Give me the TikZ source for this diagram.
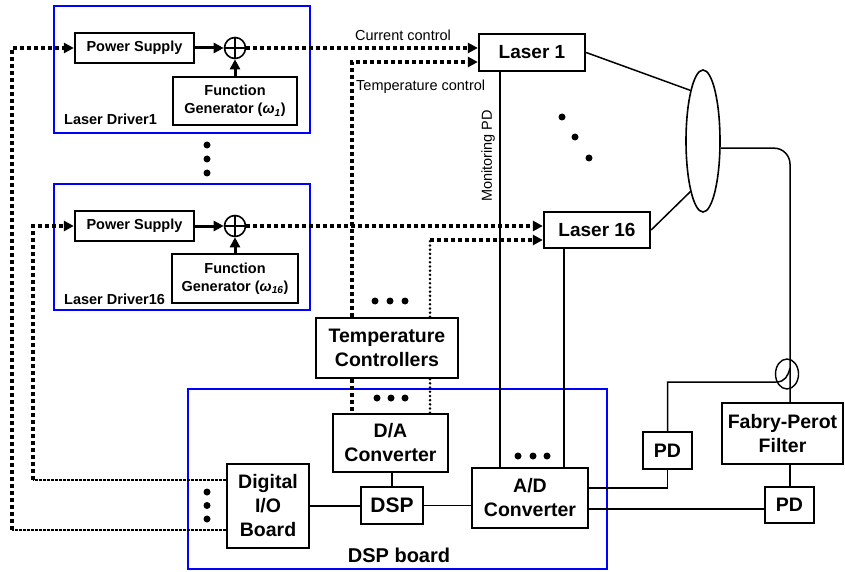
\documentclass[tikz,border=0pt]{standalone}
\usepackage{fontspec}
\setmainfont{Liberation Sans}
\usetikzlibrary{arrows.meta,shapes.geometric}

\begin{document}
\begin{tikzpicture}[x=1pt,y=-1pt,
  grp/.style={draw=blue, line width=1.6pt, inner sep=0pt},
  blk/.style={draw, line width=2.3pt, align=center, inner sep=0pt,
    font=\bfseries\fontsize{19.5}{24}\selectfont},
  sblk/.style={draw, line width=2.3pt, align=center, inner sep=0pt,
    font=\bfseries\fontsize{14.5}{18.5}\selectfont},
  lbl/.style={inner sep=0pt, font=\fontsize{14.5}{17}\selectfont},
  blbl/.style={inner sep=0pt, font=\bfseries\fontsize{14.5}{17}\selectfont},
  ctrl/.style={line width=3.6pt, dash pattern=on 4pt off 3pt},
  ctrlthin/.style={line width=2.3pt, dash pattern=on 2.5pt off 1.5pt},
  ctrldot/.style={line width=2.8pt, line cap=round, dash pattern=on 0pt off 4.2pt},
  tip/.style={-{Triangle[length=10pt,width=10pt]}},
  feed/.style={line width=3pt, -{Triangle[length=10pt,width=10pt]}},
  sig/.style={line width=1.5pt},
  dotmark/.style={circle, fill, inner sep=0pt, minimum size=7pt},
  adder/.style={circle, draw, line width=1.6pt, minimum size=21pt, inner sep=0pt,
    path picture={\draw[line width=1.6pt]
      (path picture bounding box.north) -- (path picture bounding box.south)
      (path picture bounding box.west) -- (path picture bounding box.east);}}
]
\useasboundingbox (0,0) rectangle (845,572);

% group frames
\node[grp, minimum width=256pt, minimum height=127pt] (ld1) at (182,69.5) {};
\node[grp, minimum width=256pt, minimum height=126pt] (ld16) at (182,247) {};
\node[grp, minimum width=419pt, minimum height=180pt] (dspb) at (397.5,479) {};

% laser driver 1
\node[sblk, minimum width=119pt, minimum height=30pt] (ps1) at (134.5,48) {Power Supply};
\node[adder] (sum1) at (235,48) {};
\node[sblk, minimum width=124pt, minimum height=48pt] (fg1) at (235,101)
  {Function\\Generator (\textit{ω}\textsubscript{\textit{1}})};
\node[blbl, anchor=base west] (ld1t) at (64,125) {Laser Driver1};

% laser driver 16
\node[sblk, minimum width=119pt, minimum height=30pt] (ps16) at (134.5,226) {Power Supply};
\node[adder] (sum16) at (235,226) {};
\node[sblk, minimum width=126pt, minimum height=49pt] (fg16) at (235,278.5)
  {Function\\Generator (\textit{ω}\textsubscript{\textit{16}})};
\node[blbl, anchor=base west] (ld16t) at (64,304) {Laser Driver16};

% lasers and combiner
\node[blk, font=\bfseries\fontsize{19}{23}\selectfont, minimum width=106pt, minimum height=37pt] (las1) at (532,52.5) {Laser 1};
\node[blk, font=\bfseries\fontsize{19}{23}\selectfont, minimum width=106pt, minimum height=36pt] (las16) at (597,230) {Laser 16};
\node[ellipse, draw, line width=1.6pt, minimum width=34pt, minimum height=142pt, inner sep=0pt] (lens) at (703,141) {};

% controllers and DSP board
\node[blk, minimum width=142pt, minimum height=60pt] (tc) at (387,348) {Temperature\\Controllers};
\node[blk, minimum width=115pt, minimum height=58pt] (da) at (390.5,443) {D/A\\Converter};
\node[blk, font=\bfseries\fontsize{21}{24}\selectfont, minimum width=62pt, minimum height=37pt] (dsp) at (392,505.5) {DSP};
\node[blk, minimum width=82pt, minimum height=84pt] (dio) at (268,506) {Digital\\I/O\\Board};
\node[blk, minimum width=116pt, minimum height=60pt] (ad) at (530,498) {A/D\\Converter};
\node[inner sep=0pt, font=\bfseries\fontsize{20}{24}\selectfont, anchor=base] (dspt) at (399,562) {DSP board};

% detection
\node[blk, minimum width=49pt, minimum height=37pt] (pd1) at (667.5,450.5) {PD};
\node[blk, minimum width=121pt, minimum height=61pt] (fp) at (782.5,433.5) {Fabry-Perot\\Filter};
\node[blk, minimum width=49pt, minimum height=36pt] (pd2) at (789.5,505) {PD};
\node[ellipse, draw, line width=1.4pt, minimum width=23pt, minimum height=30pt, inner sep=0pt] (cpl) at (787,374) {};

% labels
\node[lbl, anchor=base] (cct) at (403,40.5) {Current control};
\node[lbl, anchor=base west] (tct) at (356,90.5) {Temperature control};
\node[lbl, rotate=90] (mpd) at (488,156) {Monitoring PD};

% ellipsis marks
\node[dotmark] (v1) at (207,145) {};
\node[dotmark] (v2) at (207,159) {};
\node[dotmark] (v3) at (207,173) {};
\node[dotmark] (s1) at (562,117) {};
\node[dotmark] (s2) at (575,137) {};
\node[dotmark] (s3) at (589,158) {};
\node[dotmark] (a1) at (375,301) {};
\node[dotmark] (a2) at (390,301) {};
\node[dotmark] (a3) at (405,301) {};
\node[dotmark] (b1d) at (377,398) {};
\node[dotmark] (b2d) at (391,398) {};
\node[dotmark] (b3d) at (405,398) {};
\node[dotmark] (c1) at (518,456) {};
\node[dotmark] (c2) at (533,456) {};
\node[dotmark] (c3) at (547,456) {};
\node[dotmark] (e1) at (207,492) {};
\node[dotmark] (e2) at (207,505.5) {};
\node[dotmark] (e3) at (207,519) {};

% routing points
\coordinate (b1) at (12,530);
\coordinate (b16) at (33,480);
\coordinate (t1) at (352,62);
\coordinate (t16) at (430,240);
\coordinate (mon1) at (500,0);
\coordinate (mon16) at (564,0);
\coordinate (r1) at (0,488);
\coordinate (r2) at (0,509);
\coordinate (fib) at (790,0);
\coordinate (cpin) at (776,382);
\coordinate (hook) at (790,368);

% driver signal paths
\draw[feed] (ps1.east) -- (sum1.west);
\draw[feed] (fg1.north) -- (sum1.south);
\draw[feed] (ps16.east) -- (sum16.west);
\draw[feed] (fg16.north) -- (sum16.south);

% current control
\draw[ctrl, tip] (sum1.east) -- (sum1.east -| las1.west);
\draw[ctrl, tip] (sum16.east) -- (sum16.east -| las16.west);

% temperature control
\draw[ctrl, tip] (tc.north -| t1) -- (t1) -- (t1 -| las1.west);
\draw[ctrldot] (tc.north -| t16) -- (t16);
\draw[ctrl, tip] (t16) -- (t16 -| las16.west);
\draw[ctrl] (tc.south -| t1) -- (da.north -| t1);
\draw[ctrldot] (tc.south -| t16) -- (da.north -| t16);

% digital I/O to drivers
\draw[ctrlthin] (dio.west |- b1) -- (b1);
\draw[ctrl, tip] (b1) |- (ps1.west);
\draw[ctrlthin] (dio.west |- b16) -- (b16);
\draw[ctrl, tip] (b16) |- (ps16.west);

% optical paths
\draw[sig] (las1.east) -- (lens.104);
\draw[sig] (las16.east) -- (lens.256);
\draw[sig, rounded corners=16pt] (lens.-22) -| (fib |- fp.north);
\draw[sig] (fp.south -| fib) -- (pd2.north -| fib);

% electrical paths
\draw[sig] (las1.south -| mon1) -- (ad.north -| mon1);
\draw[sig] (las16.south -| mon16) -- (ad.north -| mon16);
\draw[sig] (da.south -| dsp) -- (dsp.north);
\draw[sig] (dio.east) -- (dio.east -| dsp.west);
\draw[sig] (dsp.east) -- (dsp.east -| ad.west);
\draw[sig] (ad.east |- r1) -| (pd1.south);
\draw[sig] (ad.east |- r2) -- (pd2.west |- r2);
\draw[sig] (pd1.north) |- (cpin) .. controls +(9,0) and +(-2,8) .. (hook);
\end{tikzpicture}
\end{document}
